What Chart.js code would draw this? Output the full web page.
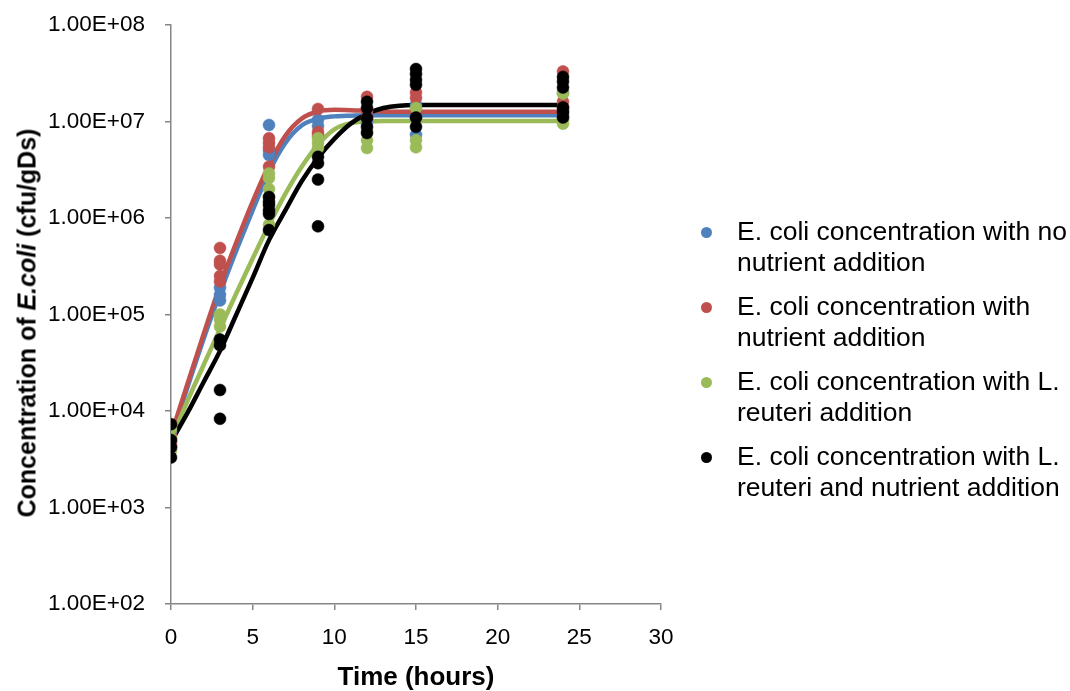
<!DOCTYPE html>
<html>
<head>
<meta charset="utf-8">
<script src="https://cdn.jsdelivr.net/npm/chart.js@4.4.1/dist/chart.umd.min.js"></script>
<style>
  html, body { margin: 0; padding: 0; background: #fff; }
  #wrap { position: relative; width: 1070px; height: 691px; font-family: 'Liberation Sans', Arial, sans-serif; color: #000; }
  #chart { position: absolute; left: 0; top: 0; }
  #ytitle { position: absolute; left: 27px; top: 323px; transform: translate(-50%, -50%) rotate(-90deg); white-space: nowrap; font-weight: bold; font-size: 25px; }
  #legend { position: absolute; left: 700px; top: 216px; font-size: 26.5px; line-height: 31px; }
  .lg-item { position: relative; padding-left: 37px; margin-bottom: 13px; white-space: nowrap; }
  .lg-dot { position: absolute; left: 1px; top: 11px; width: 11px; height: 11px; border-radius: 50%; }
</style>
</head>
<body>
<div id="wrap">
  <canvas id="chart" width="1070" height="691"></canvas>
  <div id="ytitle">Concentration of <i>E.coli</i> (cfu/gDs)</div>
  <div id="legend"></div>
</div>
<script>
// sampling times (h) and replicate counts, cfu/gDs
const sampleHours = [0, 3, 6, 9, 12, 15, 24];

const cfuNoNutrient = [
  [6.0e3, 4.8e3, 4.2e3],
  [1.9e5, 1.6e5, 1.4e5],
  [9.2e6, 5.0e6, 4.5e6],
  [1.04e7, 9.0e6],
  [1.2e7, 1.0e7],
  [1.5e7, 1.1e7, 7.3e6],
  [2.0e7, 1.3e7, 1.15e7]
];
const cfuNutrient = [
  [7.0e3, 5.5e3, 4.5e3],
  [4.9e5, 3.6e5, 3.3e5, 2.5e5, 2.2e5],
  [6.7e6, 6.0e6, 5.4e6, 3.4e6],
  [1.35e7, 7.8e6, 7.2e6],
  [1.8e7, 1.3e7, 1.1e7],
  [2.0e7, 1.75e7, 1.3e7],
  [3.3e7, 1.6e7, 1.4e7]
];
const cfuReuteri = [
  [6.5e3, 5.2e3, 3.9e3],
  [1.0e5, 8.8e4, 7.5e4],
  [2.9e6, 2.6e6, 2.0e6, 1.65e6, 8.5e5],
  [6.7e6, 6.0e6, 5.3e6],
  [8.0e6, 6.4e6, 5.3e6],
  [1.38e7, 6.4e6, 5.4e6],
  [1.95e7, 1.05e7, 9.5e6]
];
const cfuReuteriNutrient = [
  [7.3e3, 5.0e3, 4.2e3, 3.3e3],
  [5.5e4, 4.8e4, 1.65e4, 8.3e3],
  [1.65e6, 1.47e6, 1.36e6, 1.2e6, 1.1e6, 7.5e5],
  [4.3e6, 3.7e6, 2.5e6, 8.2e5],
  [1.6e7, 1.38e7, 1.09e7, 8.8e6, 7.6e6],
  [3.5e7, 3.1e7, 2.7e7, 2.4e7, 1.1e7, 8.8e6],
  [2.9e7, 2.6e7, 2.25e7, 1.4e7, 1.25e7, 1.1e7]
];

// fitted growth curves
const fitHours = [0, 1, 2, 3, 4, 5, 6, 7, 8, 9, 10, 11, 12, 13, 14, 15, 18, 21, 24];
const fitNoNutrient = [5.2e3, 1.74e4, 5.6e4, 1.66e5, 4.6e5, 1.2e6, 3.0e6, 6.0e6, 9.1e6, 1.07e7, 1.13e7, 1.15e7, 1.16e7, 1.16e7, 1.16e7, 1.16e7, 1.16e7, 1.16e7, 1.16e7];
const fitNutrient = [5.6e3, 1.9e4, 6.3e4, 2.0e5, 5.6e5, 1.48e6, 3.55e6, 7.1e6, 1.07e7, 1.27e7, 1.32e7, 1.31e7, 1.29e7, 1.27e7, 1.26e7, 1.26e7, 1.26e7, 1.26e7, 1.26e7];
const fitReuteri = [5.0e3, 1.26e4, 3.0e4, 7.1e4, 1.66e5, 3.8e5, 8.5e5, 1.78e6, 3.4e6, 5.75e6, 8.3e6, 9.6e6, 1.0e7, 1.01e7, 1.01e7, 1.01e7, 1.01e7, 1.01e7, 1.01e7];
const fitReuteriNutrient = [4.8e3, 9.5e3, 2.0e4, 4.2e4, 1.0e5, 2.4e5, 5.9e5, 1.2e6, 2.4e6, 4.2e6, 6.6e6, 9.5e6, 1.2e7, 1.38e7, 1.46e7, 1.48e7, 1.48e7, 1.48e7, 1.48e7];

const seriesLabels = [
  ['E. coli concentration with no', 'nutrient addition'],
  ['E. coli concentration with', 'nutrient addition'],
  ['E. coli concentration with L.', 'reuteri addition'],
  ['E. coli concentration with L.', 'reuteri and nutrient addition']
];
const seriesColors = ['#4F81BD', '#C0504D', '#9BBB59', '#000000'];

const yTickValues = [1e2, 1e3, 1e4, 1e5, 1e6, 1e7, 1e8];
const xTickStep = 5;

const AXIS = '#868686';
const FONT = "'Liberation Sans', Arial, sans-serif";

function toPoints(groups) {
  const pts = [];
  groups.forEach((vals, i) => vals.forEach(v => pts.push({ x: sampleHours[i], y: v })));
  return pts;
}
function toCurve(vals) {
  return vals.map((v, i) => ({ x: fitHours[i], y: v }));
}
// 1.00E+07 style labels
function sciLabel(v) {
  const e = Math.floor(Math.log10(v) + 1e-9);
  const m = (v / Math.pow(10, e)).toFixed(2);
  return m + 'E' + (e < 0 ? '-' : '+') + String(Math.abs(e)).padStart(2, '0');
}

const pointSets = [cfuNoNutrient, cfuNutrient, cfuReuteri, cfuReuteriNutrient];
const curveSets = [fitNoNutrient, fitNutrient, fitReuteri, fitReuteriNutrient];

const datasets = [];
// curves go underneath, markers on top; black drawn last
curveSets.forEach((vals, i) => {
  datasets.push({
    label: seriesLabels[i].join(' ') + ' (fit)',
    data: toCurve(vals),
    showLine: true,
    borderColor: seriesColors[i],
    borderWidth: 4.5,
    pointRadius: 0,
    fill: false,
    cubicInterpolationMode: 'monotone',
    order: 8 - i
  });
});
pointSets.forEach((groups, i) => {
  datasets.push({
    label: seriesLabels[i].join(' '),
    data: toPoints(groups),
    showLine: false,
    backgroundColor: seriesColors[i],
    borderColor: seriesColors[i],
    borderWidth: 0.5,
    pointRadius: 6,
    order: 4 - i
  });
});

new Chart(document.getElementById('chart'), {
  type: 'scatter',
  data: { datasets },
  options: {
    responsive: false,
    animation: false,
    layout: { padding: { left: 0, top: 25, right: 409, bottom: 0 } },
    plugins: { legend: { display: false }, tooltip: { enabled: false } },
    scales: {
      x: {
        type: 'linear', min: 0, max: 30,
        ticks: { stepSize: xTickStep, color: '#000', padding: 14, font: { family: FONT, size: 22.5 } },
        grid: { drawOnChartArea: false, drawTicks: true, tickLength: 6, color: AXIS, lineWidth: 1.5 },
        border: { display: true, color: AXIS, width: 1.5 },
        title: { display: true, text: 'Time (hours)', color: '#000', padding: { top: 0, bottom: -2 }, font: { family: FONT, size: 26, weight: 'bold' } },
        afterFit: s => { s.height = 87; s.paddingLeft = 0; s.paddingRight = 0; }
      },
      y: {
        type: 'logarithmic', min: 1e2, max: 1e8,
        afterBuildTicks: s => { s.ticks = yTickValues.map(v => ({ value: v })); },
        ticks: { color: '#000', padding: 20, callback: v => sciLabel(v), font: { family: FONT, size: 22.5 } },
        grid: { drawOnChartArea: false, drawTicks: true, tickLength: 6, color: AXIS, lineWidth: 1.5 },
        border: { display: true, color: AXIS, width: 1.5 },
        afterFit: s => { s.width = 171; s.paddingTop = 0; s.paddingBottom = 0; }
      }
    }
  }
});

// legend, one entry per measured series
const legend = document.getElementById('legend');
seriesLabels.forEach((lines, i) => {
  const item = document.createElement('div');
  item.className = 'lg-item';
  item.innerHTML = `<span class="lg-dot" style="background:${seriesColors[i]}"></span>${lines.join('<br>')}`;
  legend.appendChild(item);
});
</script>
</body>
</html>
